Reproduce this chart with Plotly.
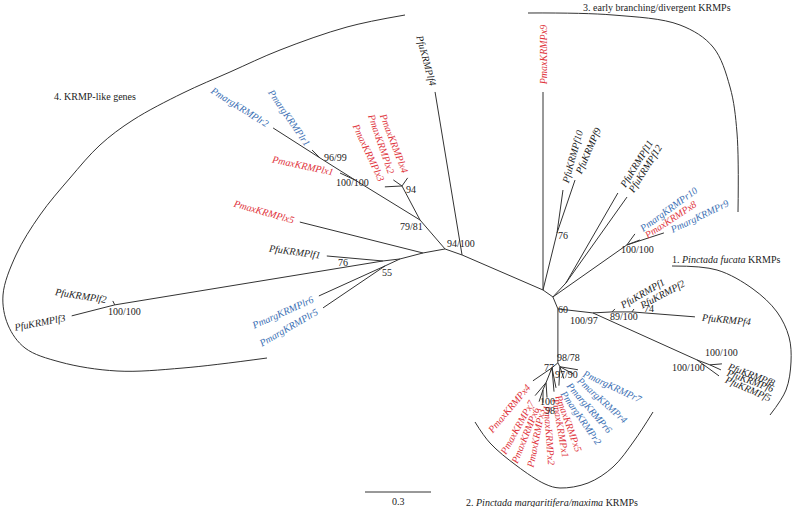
import math
import plotly.graph_objects as go

# ---------------- tree data (branch lengths in substitutions/site, angles in degrees) ----------------
node_name = [
    "PmaxKRMPx9", "N76c", "PfuKRMPf10", "PfuKRMPf9",
    "Nc2", "Nf1112", "PfuKRMPf11", "PfuKRMPf12",
    "Nr", "PmargKRMPr10", "PmaxKRMPx8", "PmargKRMPr9",
    "Nc3", "N100_97", "N89", "PfuKRMPf1", "N74", "PfuKRMPf2", "PfuKRMPf4",
    "N100f", "N100f2", "PfuKRMPf8", "PfuKRMPf6", "PfuKRMPf5",
    "N98", "N97", "PmargKRMPr7", "PmargKRMPr4", "PmargKRMPr6", "PmargKRMPr2",
    "N77", "PmaxKRMPx5", "PmaxKRMPx1", "N100x", "PmaxKRMPx2", "N98x",
    "PmaxKRMPx3", "PmaxKRMPx6", "PmaxKRMPx7", "PmaxKRMPx4",
    "Nlf4", "PfuKRMPlf4", "N94_100", "N79", "N94s",
    "PmaxKRMPlx4", "PmaxKRMPlx2", "PmaxKRMPlx3",
    "N100a", "PmaxKRMPlx1", "N96", "PmargKRMPlr1", "PmargKRMPlr2",
    "Nx5", "PmaxKRMPlx5", "Na", "N76l", "PfuKRMPlf1", "N100l",
    "PfuKRMPlf2", "PfuKRMPlf3", "N55", "PmargKRMPlr6", "PmargKRMPlr5",
]
node_parent = [
    "R", "R", "N76c", "N76c",
    "R", "Nc2", "Nf1112", "Nf1112",
    "Nc2", "Nr", "Nr", "Nr",
    "Nc2", "Nc3", "N100_97", "N89", "N89", "N74", "N74",
    "N100_97", "N100f", "N100f2", "N100f2", "N100f",
    "Nc3", "N98", "N97", "N97", "N97", "N97",
    "N98", "N77", "N77", "N77", "N100x", "N100x",
    "N98x", "N98x", "N100x", "N77",
    "R", "Nlf4", "Nlf4", "N94_100", "N79",
    "N94s", "N94s", "N94s",
    "N79", "N100a", "N100a", "N96", "N96",
    "N94_100", "Nx5", "Nx5", "Na", "N76l", "N76l",
    "N100l", "N100l", "Na", "N55", "N55",
]
branch_len = [
    0.900, 0.267, 0.197, 0.254,
    0.055, 0.087, 0.472, 0.479,
    0.411, 0.062, 0.063, 0.177,
    0.059, 0.160, 0.087, 0.019, 0.091, 0.016, 0.287,
    0.519, 0.063, 0.055, 0.055, 0.124,
    0.245, 0.020, 0.083, 0.067, 0.057, 0.086,
    0.035, 0.093, 0.109, 0.073, 0.068, 0.035,
    0.059, 0.057, 0.077, 0.105,
    0.401, 0.751, 0.082, 0.174, 0.175,
    0.045, 0.048, 0.078,
    0.347, 0.075, 0.188, 0.051, 0.253,
    0.102, 0.577, 0.108, 0.078, 0.256, 1.235,
    0.020, 0.202, 0.075, 0.330, 0.340,
]
branch_angle = [
    90, 76.2, 82.1, 71.2,
    -35, 47, 60, 54.6,
    35.1, 54, 21, 18,
    -67.4, -6.5, 3, 45, 0, 56, -4.5,
    -24.3, -21, 4.8, -24.4, -36,
    -90, -63, -9.5, -28.3, -71.6, -93,
    -140, -78.7, -85.2, -111.8, -86.2, -113.2,
    -90, -108.4, -130.2, -145.6,
    156.6, 99.4, 160.6, 130.8, 117.9,
    55, 145, 183,
    148.4, 155, 147.8, 135, 147.4,
    190.3, 165.9, 194.6, 186.7, 174.9, 189.3,
    116.6, 194.3, 205, 204.4, 214.1,
]

# tip label outward directions (deg)
tip_names = [
    "PmaxKRMPx9", "PfuKRMPf10", "PfuKRMPf9", "PfuKRMPf11", "PfuKRMPf12",
    "PmargKRMPr10", "PmaxKRMPx8", "PmargKRMPr9",
    "PfuKRMPf1", "PfuKRMPf2", "PfuKRMPf4", "PfuKRMPf8", "PfuKRMPf6", "PfuKRMPf5",
    "PmargKRMPr7", "PmargKRMPr4", "PmargKRMPr6", "PmargKRMPr2",
    "PmaxKRMPx5", "PmaxKRMPx1", "PmaxKRMPx2", "PmaxKRMPx3", "PmaxKRMPx6", "PmaxKRMPx7", "PmaxKRMPx4",
    "PfuKRMPlf4", "PmargKRMPlr2", "PmargKRMPlr1", "PmaxKRMPlx1", "PmaxKRMPlx5",
    "PmaxKRMPlx4", "PmaxKRMPlx2", "PmaxKRMPlx3",
    "PfuKRMPlf1", "PfuKRMPlf2", "PfuKRMPlf3", "PmargKRMPlr6", "PmargKRMPlr5",
]
tip_label_dir = [
    90, 74.5, 66.4, 58.3, 58,
    36, 33.4, 25.7,
    30, 28, -5, -20.6, -20, -23.5,
    -25, -42, -49, -55,
    -70, -80, -86, -101, -112, -119, -130,
    105, 148, 124.5, 168, 164,
    111, 109, 115,
    172, 171, 191, 204, 210,
]

# bootstrap support values
support_node = ["N96", "N100a", "N94s", "N79", "N94_100", "N76l", "N55", "N100l",
                "N76c", "Nr", "Nc3", "N100_97", "N89", "N74", "N100f", "N100f2",
                "N98", "N77", "N97", "N100x", "N98x"]
support_text = ["96/99", "100/100", "94", "79/81", "94/100", "76", "55", "100/100",
                "76", "100/100", "60", "100/97", "89/100", "74", "100/100", "100/100",
                "98/78", "77", "97/90", "100", "98"]
support_dx = [16, -2, 9, -9, 16, -40, 2, 10, 6, 11, 5, -9, 12, 17, -8, 12, 11, -3, 7, 1, 7]
support_dy = [0, 3, 4, 7, -5, 2, 7, 7, 3, 5, 1, 8, 5, -3, 8, -12, -5, 0, 8, 19, 21]

scale_bar_value = 0.3

clade_labels = [
    "4. KRMP-like genes",
    "3. early branching/divergent KRMPs",
    "1. <i>Pinctada fucata</i> KRMPs",
    "2. <i>Pinctada margaritifera/maxima</i> KRMPs",
]

# ---------------- layout helpers ----------------
S = 220.0          # pixels per substitution unit
W, H = 793, 507
RX, RY = 543, 290  # root pixel position


def px2u(px, py):
    return (px - RX) / S, (RY - py) / S


pos = {"R": (0.0, 0.0)}
for n, p, L, a in zip(node_name, node_parent, branch_len, branch_angle):
    x0, y0 = pos[p]
    r = math.radians(a)
    pos[n] = (x0 + L * math.cos(r), y0 + L * math.sin(r))

LINE = "#333333"
RED = "#e0333b"
BLUE = "#3b6fb4"
SERIF = "Liberation Serif"

fig = go.Figure()

ex, ey = [], []
for n, p in zip(node_name, node_parent):
    ex += [pos[p][0], pos[n][0], None]
    ey += [pos[p][1], pos[n][1], None]
fig.add_trace(go.Scatter(x=ex, y=ey, mode="lines", line=dict(color=LINE, width=1),
                         hoverinfo="skip", showlegend=False))

# clade arcs (pixel control points of hand-drawn outlines)
arcs = [
    [(405, 15), (347, 27), (280, 50), (230, 72), (183, 93), (133, 120), (100, 145), (70, 178),
     (40, 215), (16, 255), (3, 295), (8, 325), (25, 348), (60, 362), (117, 371), (183, 368), (267, 358)],
    [(528, 13), (613, 15), (680, 25), (713, 47), (730, 87), (737, 133), (738, 212)],
    [(672, 266), (717, 270), (753, 289), (777, 312), (789, 337), (791, 362), (786, 390), (770, 415)],
    [(475, 422), (490, 443), (517, 466), (545, 484), (560, 488), (588, 483), (613, 467), (634, 441), (653, 412)],
]
for arc in arcs:
    ax_, ay_ = zip(*[px2u(*pt) for pt in arc])
    fig.add_trace(go.Scatter(x=ax_, y=ay_, mode="lines", line=dict(color=LINE, width=1, shape="spline"),
                             hoverinfo="skip", showlegend=False))

# scale bar
sx, sy = px2u(365, 492)
fig.add_trace(go.Scatter(x=[sx, sx + scale_bar_value], y=[sy, sy], mode="lines",
                         line=dict(color=LINE, width=1), hoverinfo="skip", showlegend=False))

ann = []
ann.append(dict(x=sx + scale_bar_value / 2, y=sy, text=str(scale_bar_value), showarrow=False,
                yshift=-9, font=dict(family=SERIF, size=10, color="#222")))

IT = {'P': .611, 'm': .722, 'a': .5, 'r': .389, 'g': .5, 'K': .667, 'R': .611, 'M': .833,
      'f': .278, 'u': .5, 'x': .444, 'l': .278}
FS = 10
GAP = 7

for name, d in zip(tip_names, tip_label_dir):
    w = sum(IT.get(c, .5) for c in name) * FS
    dist = GAP + w / 2
    r = math.radians(d)
    if -90 < d <= 90:
        ta = -d
    else:
        ta = 180 - d
    while ta > 180:
        ta -= 360
    while ta <= -180:
        ta += 360
    col = RED if name.startswith("Pmax") else BLUE if name.startswith("Pmarg") else "#1a1a1a"
    ann.append(dict(x=pos[name][0], y=pos[name][1], text=name, showarrow=False,
                    xanchor="center", yanchor="middle", textangle=ta,
                    xshift=dist * math.cos(r), yshift=dist * math.sin(r),
                    font=dict(family=SERIF, size=FS, color=col, style="italic")))

for n, t, dx, dy in zip(support_node, support_text, support_dx, support_dy):
    ann.append(dict(x=pos[n][0], y=pos[n][1], text=t, showarrow=False,
                    xanchor="center", yanchor="middle", xshift=dx, yshift=-dy,
                    font=dict(family=SERIF, size=10, color="#222")))

clade_pos = [(95, 96), (657, 7), (726, 259), (552, 502)]
for t, (cx, cy) in zip(clade_labels, clade_pos):
    ux, uy = px2u(cx, cy)
    ann.append(dict(x=ux, y=uy, text=t, showarrow=False, xanchor="center", yanchor="middle",
                    font=dict(family=SERIF, size=10, color="#222")))

fig.update_layout(
    width=W, height=H, margin=dict(l=0, r=0, t=0, b=0),
    paper_bgcolor="white", plot_bgcolor="white",
    xaxis=dict(range=[(0 - RX) / S, (W - RX) / S], visible=False, fixedrange=True),
    yaxis=dict(range=[(RY - H) / S, (RY - 0) / S], visible=False, fixedrange=True),
    annotations=ann, showlegend=False,
)
fig.write_html(
    "out.html",
    config={"displayModeBar": False},
    post_script="document.body.style.margin='0';document.body.style.padding='0';"
                "document.body.style.overflow='hidden';",
)
